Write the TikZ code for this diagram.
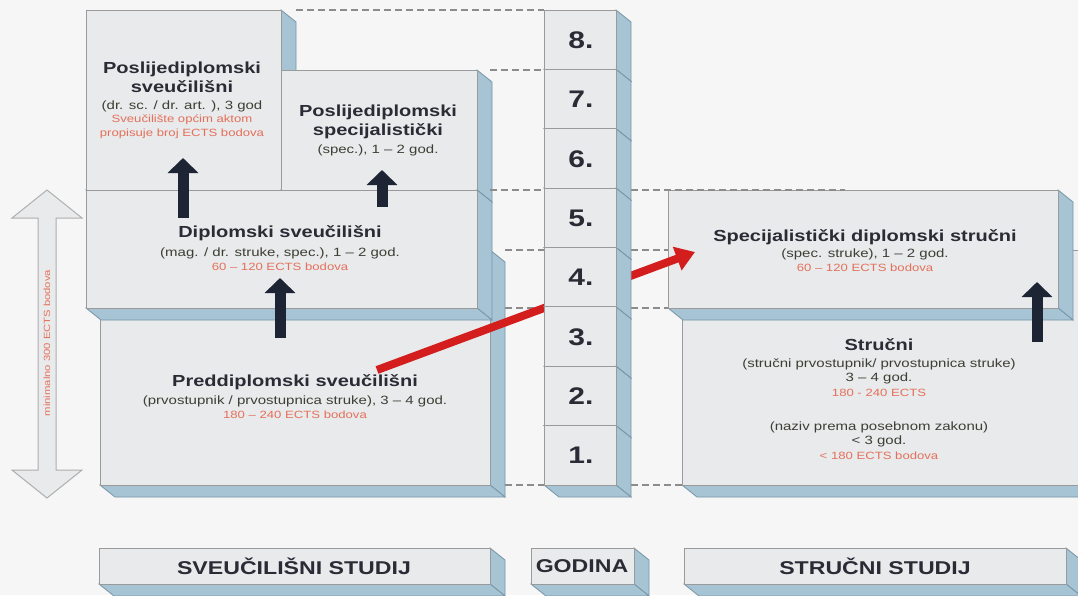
\documentclass[tikz,border=0pt]{standalone}
\usepackage{fontspec}
\setmainfont{Liberation Sans}[FakeStretch=1.25]
\usepackage{tikz}
\usetikzlibrary{arrows.meta}
\definecolor{pozadina}{HTML}{F6F6F6}
\definecolor{lice}{HTML}{E8EAEC}
\definecolor{rub}{HTML}{9A9A9A}
\definecolor{plava}{HTML}{A6C4D4}
\definecolor{plavirub}{HTML}{7896A8}
\definecolor{tamna}{HTML}{1D2434}
\definecolor{tekst}{HTML}{2A2B35}
\definecolor{opisboja}{HTML}{3E3E34}
\definecolor{crvena}{HTML}{E5705A}
\definecolor{strelica}{HTML}{D41E1E}
\definecolor{crtkano}{HTML}{8C8C8C}
\tikzset{
	prednja/.style={fill=lice, draw=rub, line width=0.8pt},
	bocna/.style={fill=plava, draw=plavirub, line width=0.8pt},
	naslov/.style={font=\fontsize{16}{19}\selectfont\bfseries, text=tekst, align=center, inner sep=0pt},
	opis/.style={font=\fontsize{12}{14}\selectfont, text=opisboja, align=center, inner sep=0pt},
	bodovi/.style={font=\fontsize{10.5}{14.5}\selectfont, text=crvena, align=center, inner sep=0pt},
	broj/.style={font=\fontsize{24}{26}\selectfont\bfseries, text=tekst, inner sep=0pt},
	oznaka/.style={font=\fontsize{18.5}{20}\selectfont\bfseries, text=tekst, inner sep=0pt},
	crtica/.style={draw=crtkano, line width=1.3pt, dash pattern=on 7pt off 4pt},
	crna/.style={draw=tamna, line width=11pt, -{Triangle[width=30pt,length=15pt]}},
	crvenastr/.style={draw=strelica, line width=8pt, -{Triangle[width=24pt,length=19pt]}},
	dvostruka/.style={fill=lice, draw=rub!80, line width=1pt}
}
% kutija s bocnom i donjom plohom: (lijevo,gore)(desno,dolje)
\def\kocka(#1,#2)(#3,#4){%
	\draw[bocna] (#3,#2) -- ++(15,12) -- ++(0,{#4-#2}) -- (#3,#4) -- cycle;
	\draw[bocna] (#1,#4) -- ++(15,12) -- ++({#3-#1},0) -- (#3,#4) -- cycle;
	\draw[prednja] (#1,#2) rectangle (#3,#4);
}

\begin{document}
\begin{tikzpicture}[x=1pt, y=-1pt]
			%%%%% START %%%%%
			\useasboundingbox (0,0) rectangle (1078,595);
			\clip (0,0) rectangle (1078,595);
			\fill[pozadina] (0,0) rectangle (1078,595);
			
			% lijeva dvostruka strelica
			\draw[dvostruka] (47,190) -- (82,218) -- (56,218) -- (56,470) -- (82,470) -- (47,498)
				-- (12,470) -- (38,470) -- (38,218) -- (12,218) -- cycle;
			\node[font=\fontsize{9}{10}\selectfont, text=crvena, rotate=90, inner sep=0pt] (minimalno) at (47,343) {minimalno 300 ECTS bodova};
			
			% sveucilisni studij
			\kocka(100,250)(490,485)
			\kocka(86,10)(281,190)
			\kocka(281,70)(477,190)
			\kocka(86,190)(477,308)
			
			\draw[crtica] (296,10) -- (544,10);
			\draw[crtica] (490,70) -- (544,70);
			\draw[crtica] (490,190) -- (544,190);
			\draw[crtica] (505,250) -- (544,250);
			\draw[crtica] (505,308) -- (544,308);
			\draw[crtica] (505,485) -- (544,485);
			
			% strucni studij
			\kocka(682,250)(1085,485)
			\kocka(668,190)(1058,308)
			
			\draw[crtica] (631,190) -- (845,190);
			\draw[crtica] (631,250) -- (668,250);
			\draw[crtica] (631,308) -- (668,308);
			\draw[crtica] (631,485) -- (682,485);
			
			% tekstovi
			\node[naslov] (psNaslov) at (182,77.5) {Poslijediplomski\\sveučilišni};
			\node[opis] (psOpis) at (182,106) {(dr. sc. / dr. art. ), 3 god};
			\node[bodovi] (psBodovi) at (182,126.5) {Sveučilište općim aktom\\propisuje broj ECTS bodova};
			
			\node[naslov] (spNaslov) at (378,121.5) {Poslijediplomski\\specijalistički};
			\node[opis] (spOpis) at (378,150) {(spec.), 1 – 2 god.};
			
			\node[naslov] (dNaslov) at (280,233) {Diplomski sveučilišni};
			\node[opis] (dOpis) at (280,253) {(mag. / dr. struke, spec.), 1 – 2 god.};
			\node[bodovi] (dBodovi) at (280,267) {60 – 120 ECTS bodova};
			
			\node[naslov] (pdNaslov) at (295,382) {Preddiplomski sveučilišni};
			\node[opis] (pdOpis) at (295,401) {(prvostupnik / prvostupnica struke), 3 – 4 god.};
			\node[bodovi] (pdBodovi) at (295,415) {180 – 240 ECTS bodova};
			
			\node[naslov] (sdsNaslov) at (865,237) {Specijalistički diplomski stručni};
			\node[opis] (sdsOpis) at (865,254) {(spec. struke), 1 – 2 god.};
			\node[bodovi] (sdsBodovi) at (865,268) {60 – 120 ECTS bodova};
			
			\node[naslov] (sNaslov) at (879,345) {Stručni};
			\node[opis] (sOpis) at (879,371) {(stručni prvostupnik/ prvostupnica struke)\\3 – 4 god.};
			\node[bodovi] (sBodovi) at (879,393) {180 - 240 ECTS};
			\node[opis] (sNaziv) at (879,434.5) {(naziv prema posebnom zakonu)\\< 3 god.};
			\node[bodovi] (sManje) at (879,456) {< 180 ECTS bodova};
			
			% crne strelice
			\coordinate (a1) at (183,218); \coordinate (b1) at (183,158);
			\coordinate (a2) at (382,207); \coordinate (b2) at (382,170);
			\coordinate (a3) at (280,338); \coordinate (b3) at (280,278);
			\coordinate (a4) at (1037,342); \coordinate (b4) at (1037,282);
			\draw[crna] (a1) -- (b1);
			\draw[crna] (a2) -- (b2);
			\draw[crna] (a3) -- (b3);
			\draw[crna] (a4) -- (b4);
			
			% crvena strelica
			\coordinate (prijelazA) at (377,370);
			\coordinate (prijelazB) at (695,252);
			\draw[crvenastr] (prijelazA) -- (prijelazB);
			
			% godine
			\foreach \n in {8,...,1}{
				\pgfmathsetmacro{\gore}{10+(8-\n)*59.375}
				\pgfmathsetmacro{\dolje}{\gore+59.375}
				\kocka(544,\gore)(616,\dolje)
				\node[broj] (god\n) at (581,{\gore+30}) {\n.};
			}
			
			% oznake dolje
			\kocka(99,548)(490,584)
			\kocka(531,548)(634,584)
			\kocka(684,548)(1066,584)
			\node[oznaka] (sveucilisni) at (294,566) {SVEUČILIŠNI STUDIJ};
			\node[oznaka] (godina) at (582,566) {GODINA};
			\node[oznaka] (strucni) at (875,566) {STRUČNI STUDIJ};
			
			%%%%% END %%%%%
\end{tikzpicture}
\end{document}
